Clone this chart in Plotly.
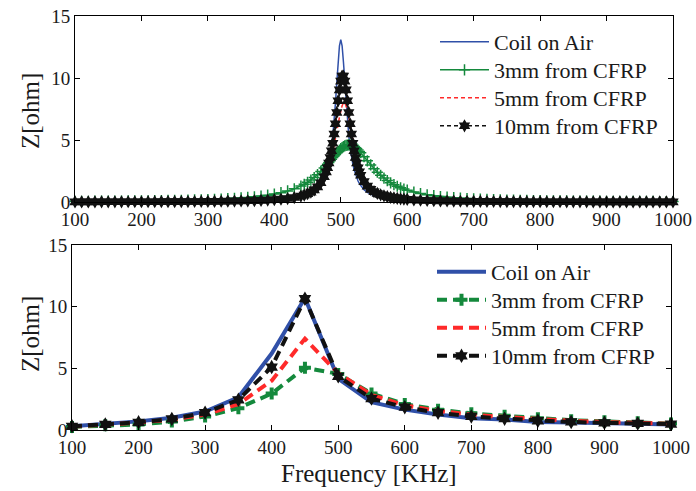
import plotly.graph_objects as go

# ---------------- top panel data (dense sweep) ----------------
freq_top = [100,110,120,130,140,150,160,170,180,190,
            200,210,220,230,240,250,260,270,280,290,
            300,310,320,330,340,350,360,370,380,390,
            400,410,420,430,440,
            445,450,455,460,465,470,475,
            478,480,482,484,486,488,490,492,494,496,498,
            500,502,504,506,508,510,512,514,516,518,520,522,524,526,528,530,
            535,540,545,550,555,560,565,570,575,580,585,590,595,600,
            610,620,630,640,650,660,670,680,690,700,
            710,720,730,740,750,760,770,780,790,800,
            810,820,830,840,850,860,870,880,890,900,
            910,920,930,940,950,960,970,980,990,1000]

air_top = [0.008,0.009,0.009,0.010,0.010,0.011,0.011,0.012,0.013,0.014,
           0.015,0.016,0.017,0.018,0.019,0.021,0.023,0.025,0.027,0.030,
           0.033,0.036,0.040,0.045,0.051,0.058,0.066,0.077,0.090,0.107,
           0.130,0.160,0.200,0.260,0.350,
           0.42,0.50,0.62,0.77,0.99,1.31,1.81,
           2.24,2.62,3.09,3.68,4.43,5.37,6.55,7.99,9.63,11.29,12.60,
           13.10,12.60,11.29,9.63,7.99,6.55,5.37,4.43,3.68,3.09,2.62,2.24,1.94,1.69,1.48,1.31,
           0.99,0.77,0.62,0.50,0.42,0.35,0.30,0.26,0.23,0.20,0.18,0.16,0.14,0.13,
           0.107,0.090,0.077,0.066,0.058,0.051,0.045,0.040,0.036,0.033,
           0.030,0.027,0.025,0.023,0.021,0.019,0.018,0.017,0.016,0.015,
           0.014,0.013,0.012,0.011,0.011,0.010,0.010,0.009,0.009,0.008,
           0.008,0.007,0.007,0.007,0.006,0.006,0.006,0.006,0.005,0.005]

mm3_top = [0.054,0.057,0.060,0.063,0.066,0.070,0.074,0.078,0.083,0.088,
           0.094,0.100,0.107,0.114,0.123,0.132,0.142,0.154,0.167,0.182,
           0.198,0.217,0.240,0.265,0.295,0.330,0.371,0.420,0.479,0.551,
           0.64,0.75,0.89,1.06,1.29,
           1.43,1.59,1.77,1.97,2.20,2.46,2.74,
           2.93,3.05,3.19,3.32,3.45,3.58,3.71,3.84,3.97,4.08,4.19,
           4.30,4.38,4.46,4.52,4.56,4.59,4.60,4.59,4.56,4.52,4.46,4.38,4.30,4.19,4.08,3.97,
           3.65,3.32,2.99,2.69,2.40,2.15,1.93,1.73,1.55,1.40,1.27,1.15,1.05,0.95,
           0.80,0.68,0.58,0.51,0.44,0.39,0.35,0.31,0.28,0.25,
           0.23,0.21,0.19,0.17,0.16,0.15,0.14,0.13,0.12,0.11,
           0.10,0.096,0.090,0.085,0.080,0.076,0.072,0.068,0.064,0.061,
           0.058,0.055,0.053,0.050,0.048,0.046,0.044,0.042,0.040,0.039]

mm5_top = [0.014,0.015,0.016,0.016,0.017,0.018,0.019,0.021,0.022,0.023,
           0.025,0.027,0.028,0.031,0.033,0.036,0.039,0.042,0.046,0.050,
           0.055,0.061,0.068,0.075,0.085,0.096,0.110,0.127,0.148,0.175,
           0.20,0.25,0.31,0.39,0.51,
           0.59,0.70,0.83,1.00,1.22,1.53,1.95,
           2.27,2.53,2.83,3.16,3.56,4.00,4.50,5.05,5.64,6.25,6.84,
           7.36,7.76,7.97,7.97,7.76,7.36,6.84,6.25,5.64,5.05,4.50,4.00,3.56,3.16,2.83,2.53,
           1.95,1.53,1.22,1.00,0.83,0.70,0.59,0.51,0.45,0.39,0.35,0.31,0.28,0.25,
           0.20,0.175,0.148,0.127,0.110,0.096,0.085,0.075,0.068,0.061,
           0.055,0.050,0.046,0.042,0.039,0.036,0.033,0.031,0.028,0.027,
           0.025,0.023,0.022,0.021,0.019,0.018,0.017,0.016,0.016,0.015,
           0.014,0.013,0.013,0.012,0.012,0.011,0.011,0.010,0.010,0.009]

mm10_top = [0.012,0.013,0.014,0.014,0.015,0.016,0.017,0.018,0.019,0.020,
            0.022,0.023,0.025,0.027,0.029,0.031,0.034,0.037,0.040,0.044,
            0.049,0.054,0.060,0.067,0.075,0.085,0.098,0.113,0.132,0.157,
            0.19,0.23,0.28,0.36,0.48,
            0.56,0.67,0.80,0.98,1.22,1.55,2.04,
            2.43,2.76,3.14,3.59,4.13,4.74,5.48,6.31,7.22,8.16,9.04,
            9.75,10.15,10.15,9.75,9.04,8.16,7.22,6.31,5.48,4.74,4.13,3.59,3.14,2.76,2.43,2.16,
            1.64,1.28,1.02,0.83,0.69,0.58,0.50,0.43,0.37,0.33,0.29,0.26,0.23,0.21,
            0.17,0.14,0.12,0.11,0.09,0.08,0.07,0.06,0.06,0.05,
            0.047,0.042,0.039,0.036,0.033,0.030,0.028,0.026,0.024,0.023,
            0.021,0.020,0.019,0.018,0.017,0.016,0.015,0.014,0.013,0.013,
            0.012,0.011,0.011,0.010,0.010,0.010,0.009,0.009,0.008,0.008]

# ---------------- bottom panel data (50 kHz steps) ----------------
freq_bot = [100,150,200,250,300,350,400,450,500,550,600,650,700,750,800,850,900,950,1000]
air_bot  = [0.30,0.50,0.70,1.00,1.50,2.65,6.20,10.70,4.15,2.25,1.65,1.25,0.95,0.85,0.65,0.60,0.52,0.50,0.45]
mm3_bot  = [0.25,0.38,0.45,0.68,1.10,1.77,2.95,5.05,4.55,2.95,2.10,1.65,1.35,1.15,0.95,0.80,0.70,0.62,0.52]
mm5_bot  = [0.28,0.42,0.60,0.85,1.25,2.10,4.00,7.40,4.60,2.85,2.00,1.55,1.25,1.05,0.88,0.75,0.65,0.58,0.50]
mm10_bot = [0.30,0.45,0.62,0.90,1.40,2.45,5.10,10.65,4.35,2.55,1.85,1.40,1.10,0.92,0.75,0.65,0.58,0.53,0.48]

names = ["Coil on Air", "3mm from CFRP", "5mm from CFRP", "10mm from CFRP"]
x_ticks = [100,200,300,400,500,600,700,800,900,1000]
y_ticks = [0,5,10,15]

BLUE = "#3050a8"
GREEN = "#14893c"
RED = "#ff2a2a"
BLACK = "#111111"
TXT = "#1a1a1a"
SERIF = "Liberation Serif"
W, H = 696, 491

fig = go.Figure()

# top traces
fig.add_trace(go.Scatter(x=freq_top, y=air_top, name=names[0], mode="lines",
                         line=dict(color=BLUE, width=1.5), xaxis="x", yaxis="y",
                         legend="legend", cliponaxis=False))
fig.add_trace(go.Scatter(x=freq_top, y=mm3_top, name=names[1], mode="lines+markers",
                         line=dict(color=GREEN, width=1.5),
                         marker=dict(symbol="cross-thin", size=8, color=GREEN,
                                     line=dict(color=GREEN, width=1.5)),
                         xaxis="x", yaxis="y", legend="legend2", cliponaxis=False))
fig.add_trace(go.Scatter(x=freq_top, y=mm5_top, name=names[2], mode="lines",
                         line=dict(color=RED, width=1.5, dash="4px,3px"),
                         xaxis="x", yaxis="y", legend="legend3", cliponaxis=False))
fig.add_trace(go.Scatter(x=freq_top, y=mm10_top, name=names[3], mode="lines+markers",
                         line=dict(color=BLACK, width=1.5, dash="4px,3px"),
                         marker=dict(symbol="hexagram", size=10, color=BLACK),
                         xaxis="x", yaxis="y", legend="legend4", cliponaxis=False))

# bottom traces
fig.add_trace(go.Scatter(x=freq_bot, y=air_bot, name=names[0], mode="lines",
                         line=dict(color=BLUE, width=4), xaxis="x2", yaxis="y2",
                         legend="legend5", cliponaxis=False))
fig.add_trace(go.Scatter(x=freq_bot, y=mm3_bot, name=names[1], mode="lines+markers",
                         line=dict(color=GREEN, width=4, dash="10px,6px"),
                         marker=dict(symbol="cross", size=10, color=GREEN),
                         xaxis="x2", yaxis="y2", legend="legend6", cliponaxis=False))
fig.add_trace(go.Scatter(x=freq_bot, y=mm5_bot, name=names[2], mode="lines",
                         line=dict(color=RED, width=4, dash="10px,6px"),
                         xaxis="x2", yaxis="y2", legend="legend7", cliponaxis=False))
fig.add_trace(go.Scatter(x=freq_bot, y=mm10_bot, name=names[3], mode="lines+markers",
                         line=dict(color=BLACK, width=4, dash="10px,6px"),
                         marker=dict(symbol="hexagram", size=11, color=BLACK),
                         xaxis="x2", yaxis="y2", legend="legend8", cliponaxis=False))

axis_common = dict(showline=True, linecolor="black", linewidth=1, mirror="ticks",
                   ticks="inside", ticklen=5, tickcolor="black", showgrid=False,
                   zeroline=False, automargin=False,
                   tickfont=dict(family=SERIF, size=19, color=TXT))


def legend_at(x_px, y_px):
    return dict(x=x_px / W, y=1 - y_px / H, xanchor="left", yanchor="middle",
                bgcolor="rgba(0,0,0,0)", itemwidth=49, borderwidth=0,
                font=dict(family=SERIF, size=22, color=TXT))


top_leg_y = [42, 70, 98, 126]
bot_leg_y = [272, 300, 328, 356]

fig.update_layout(
    width=W, height=H,
    margin=dict(l=0, r=0, t=0, b=0, autoexpand=False),
    paper_bgcolor="white", plot_bgcolor="white",
    xaxis=dict(domain=[75/W, 673/W], range=[100, 1000], tickvals=x_ticks,
               anchor="y", **axis_common),
    yaxis=dict(domain=[1-202/H, 1-16/H], range=[0, 15], tickvals=y_ticks,
               anchor="x", **axis_common),
    xaxis2=dict(domain=[72/W, 671/W], range=[100, 1000], tickvals=x_ticks,
                anchor="y2", **axis_common),
    yaxis2=dict(domain=[1-430/H, 1-245/H], range=[0, 15], tickvals=y_ticks,
                anchor="x2", **axis_common),
    legend=legend_at(435, top_leg_y[0]),
    legend2=legend_at(435, top_leg_y[1]),
    legend3=legend_at(435, top_leg_y[2]),
    legend4=legend_at(435, top_leg_y[3]),
    legend5=legend_at(432, bot_leg_y[0]),
    legend6=legend_at(432, bot_leg_y[1]),
    legend7=legend_at(432, bot_leg_y[2]),
    legend8=legend_at(432, bot_leg_y[3]),
    annotations=[
        dict(text="Z[ohm]", x=30/W, y=1-111/H, xref="paper", yref="paper",
             textangle=-90, showarrow=False, xanchor="center", yanchor="middle",
             font=dict(family=SERIF, size=25, color=TXT)),
        dict(text="Z[ohm]", x=30/W, y=1-334/H, xref="paper", yref="paper",
             textangle=-90, showarrow=False, xanchor="center", yanchor="middle",
             font=dict(family=SERIF, size=25, color=TXT)),
        dict(text="Frequency [KHz]", x=369/W, y=1-473/H, xref="paper", yref="paper",
             showarrow=False, xanchor="center", yanchor="middle",
             font=dict(family=SERIF, size=25, color=TXT)),
    ],
    showlegend=True,
)

fig.write_html("out.html")
